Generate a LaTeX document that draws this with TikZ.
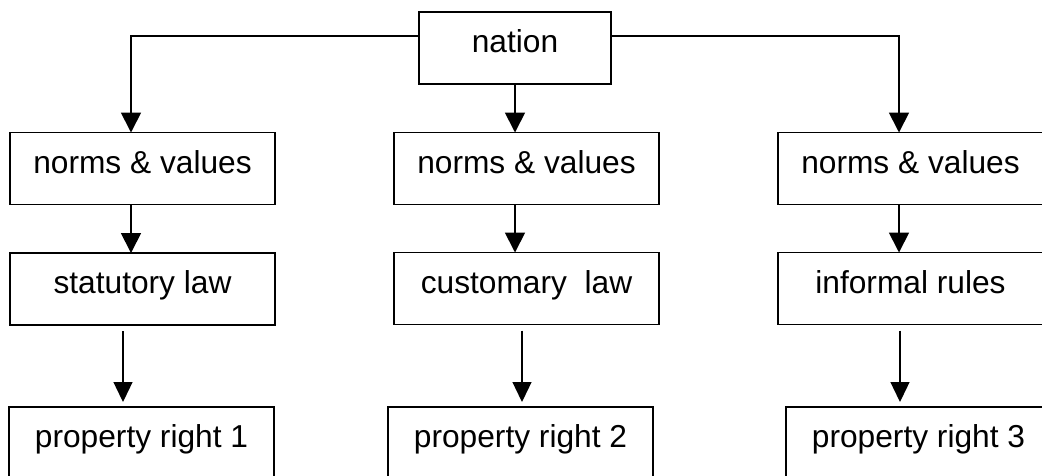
\documentclass[tikz,border=0pt]{standalone}
\usepackage{fontspec}
\setmainfont{Liberation Sans}
\usetikzlibrary{arrows.meta}
\tikzset{
  box/.style={draw, line width=1.8pt, outer sep=0pt, inner sep=0pt,
    minimum width=265pt, minimum height=72pt,
    text height=22pt, text depth=13pt,
    font=\fontsize{31.7}{38}\selectfont},
  link/.style={line width=1.8pt, -{Triangle[width=20pt,length=20pt]}},
  thinlink/.style={line width=1.3pt, -{Triangle[width=19pt,length=20pt]}}
}
\begin{document}
\begin{tikzpicture}[x=1pt,y=-1pt]
\useasboundingbox (0,0) rectangle (1042,475);
\clip (0,0) rectangle (1042,475);

% top node
\node[box, minimum width=192pt] (nation) at (515,48) {nation};

% first row
\node[box] (nv1) at (142.5,168.5) {norms \& values};
\node[box] (nv2) at (526.5,168.5) {norms \& values};
\node[box] (nv3) at (910.5,168.5) {norms \& values};

% second row
\node[box] (sl) at (142.5,289) {statutory law};
\node[box] (cl) at (526.5,288.5) {customary\ \ law};
\node[box] (ir) at (910.5,288.5) {informal rules};

% third row
\node[box] (pr1) at (141.5,443) {property right 1};
\node[box] (pr2) at (520.5,443) {property right 2};
\node[box] (pr3) at (918.5,443) {property right 3};

% nation to the three norm boxes
\draw[link] ([yshift=12.3pt]nation.west) -| ([xshift=-11.5pt]nv1.north);
\draw[link] ([yshift=12.3pt]nation.east) -| ([xshift=-11.5pt]nv3.north);
\draw[link] (nation.south) -- (nation.south |- nv2.north);

% norms to laws and rules
\draw[link] ([xshift=-11.5pt]nv1.south) -- ([xshift=-11.5pt]nv1.south |- sl.north);
\draw[link] ([xshift=-11.5pt]nv2.south) -- ([xshift=-11.5pt]nv2.south |- cl.north);
\draw[link] ([xshift=-11.5pt]nv3.south) -- ([xshift=-11.5pt]nv3.south |- ir.north);

% laws and rules to property rights
\draw[thinlink, shorten <=6pt, shorten >=5pt]
  ([xshift=-19.5pt]sl.south) -- ([xshift=-19.5pt]sl.south |- pr1.north);
\draw[thinlink, shorten <=6pt, shorten >=5pt]
  ([xshift=-4.5pt]cl.south) -- ([xshift=-4.5pt]cl.south |- pr2.north);
\draw[thinlink, shorten <=6pt, shorten >=5pt]
  ([xshift=-10.5pt]ir.south) -- ([xshift=-10.5pt]ir.south |- pr3.north);
\end{tikzpicture}
\end{document}
